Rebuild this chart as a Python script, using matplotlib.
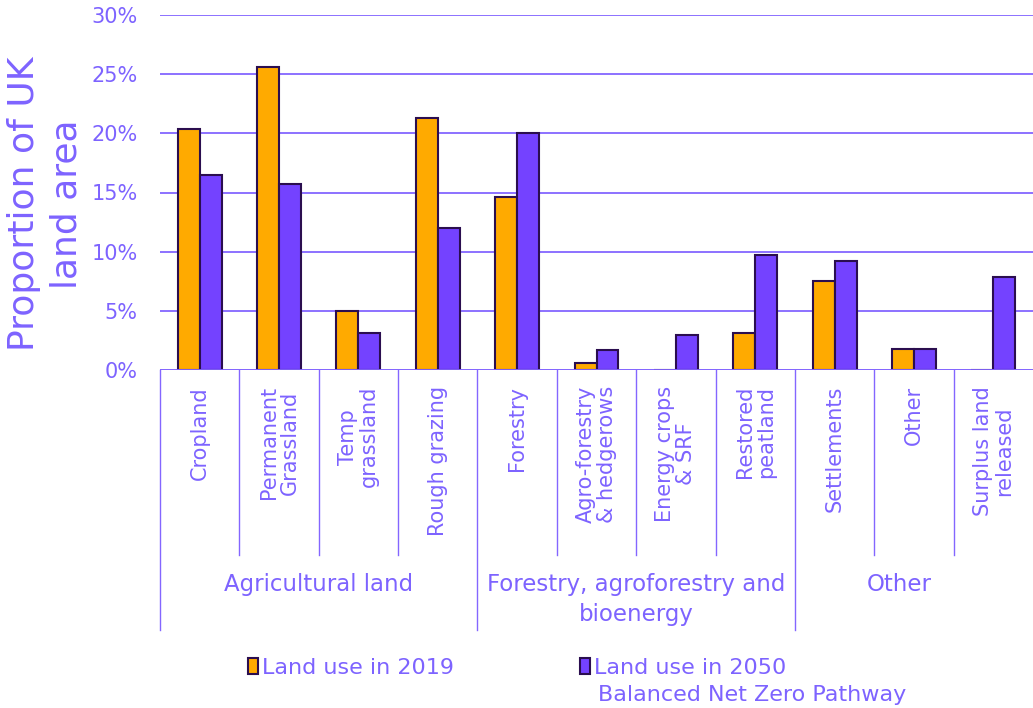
import numpy as np
import matplotlib
matplotlib.use('Agg')
import matplotlib.pyplot as plt
import matplotlib.transforms as mtransforms
from matplotlib.patches import Patch

# ─────────────────────────────────────────────
# DATA  (proportion of UK land area, %)
# ─────────────────────────────────────────────
categories = ['Cropland', 'Permanent\nGrassland', 'Temp\ngrassland', 'Rough grazing',
              'Forestry', 'Agro-forestry\n& hedgerows', 'Energy crops\n& SRF',
              'Restored\npeatland', 'Settlements', 'Other', 'Surplus land\nreleased']
use_2019 = [20.4, 25.6, 5.0, 21.3, 14.6, 0.6, 0.0, 3.15, 7.5, 1.8, 0.0]
use_2050 = [16.5, 15.7, 3.1, 12.0, 20.0, 1.7, 3.0, 9.7, 9.2, 1.8, 7.9]

groups = ['Agricultural land', 'Forestry, agroforestry and\nbioenergy', 'Other']
group_sizes = [4, 4, 3]

series_labels = ['Land use in 2019', 'Land use in 2050']
series_note = 'Balanced Net Zero Pathway'
yticks = [0, 5, 10, 15, 20, 25, 30]

# ─────────────────────────────────────────────
# STYLE
# ─────────────────────────────────────────────
C_ORANGE = '#FFAA00'
C_PURPLE = '#7442FF'
C_EDGE   = '#2B0E4F'
C_TEXT   = '#7D63FF'
C_GRID   = '#8466FF'

W, H = 1033, 708
fig = plt.figure(figsize=(W / 100, H / 100), dpi=100)
ax = fig.add_axes([160 / W, 338 / H, 1 - 160 / W, 355 / H])

x = np.arange(len(categories))
w = 0.277
ax.bar(x - w / 2, use_2019, w, color=C_ORANGE, edgecolor=C_EDGE, linewidth=1.5, zorder=3)
ax.bar(x + w / 2, use_2050, w, color=C_PURPLE, edgecolor=C_EDGE, linewidth=1.5, zorder=3)

ax.set_xlim(-0.5, len(categories) - 0.5)
ax.set_ylim(0, 30)
ax.set_yticks(yticks)
ax.set_yticklabels([f'{t}%' for t in yticks], fontsize=15, color=C_TEXT)
ax.tick_params(axis='y', length=0, pad=16)
ax.tick_params(axis='x', length=0, labelbottom=False)
for s in ax.spines.values():
    s.set_visible(False)
ax.grid(axis='y', color=C_GRID, linewidth=1.3, zorder=0)
ax.axhline(0, color=C_GRID, linewidth=1.3, zorder=4)

ax.set_ylabel('Proportion of UK\nland area', fontsize=26, color=C_TEXT, linespacing=1.3)
ax.yaxis.set_label_coords(-0.088, 0.468)

# ── two-level category axis ──────────────────
trans = mtransforms.blended_transform_factory(ax.transData, ax.transAxes)
y_cat = -185 / 355
y_grp = -260 / 355

for i, lab in enumerate(categories):
    ax.text(i, -16 / 355, lab, transform=trans, rotation=90, ha='center', va='top',
            multialignment='center', fontsize=15, color=C_TEXT, linespacing=1.05)

bounds = np.cumsum([0] + group_sizes) - 0.5
for i in range(1, len(categories)):
    if i - 0.5 in bounds:
        continue
    ax.plot([i - 0.5, i - 0.5], [0, y_cat], transform=trans, color=C_GRID,
            linewidth=1.0, clip_on=False)
for bx in bounds[:-1]:
    ax.plot([bx, bx], [0, y_grp], transform=trans, color=C_GRID,
            linewidth=1.0, clip_on=False)

grp_x = [(bounds[k] + bounds[k + 1]) / 2 for k in range(len(groups))]
grp_x[-1] -= 0.18
for gx, g in zip(grp_x, groups):
    ax.text(gx, -203 / 355, g, transform=trans, ha='center', va='top',
            fontsize=16.5, color=C_TEXT, linespacing=1.4)

# ── legend ───────────────────────────────────
leg_kw = dict(loc='center left', frameon=False, handlelength=0.45, handleheight=0.72,
              handletextpad=0.2, borderpad=0, borderaxespad=0, fontsize=16,
              labelcolor=C_TEXT)
fig.legend(handles=[Patch(facecolor=C_ORANGE, edgecolor=C_EDGE, linewidth=1.5)],
           labels=[series_labels[0]], bbox_to_anchor=(248 / W, 1 - 668 / H), **leg_kw)
fig.legend(handles=[Patch(facecolor=C_PURPLE, edgecolor=C_EDGE, linewidth=1.5)],
           labels=[series_labels[1]], bbox_to_anchor=(580 / W, 1 - 668 / H), **leg_kw)
fig.text(598 / W, 1 - 695 / H, series_note, ha='left', va='center',
         fontsize=16, color=C_TEXT)

fig.savefig('out.png', dpi=100)
